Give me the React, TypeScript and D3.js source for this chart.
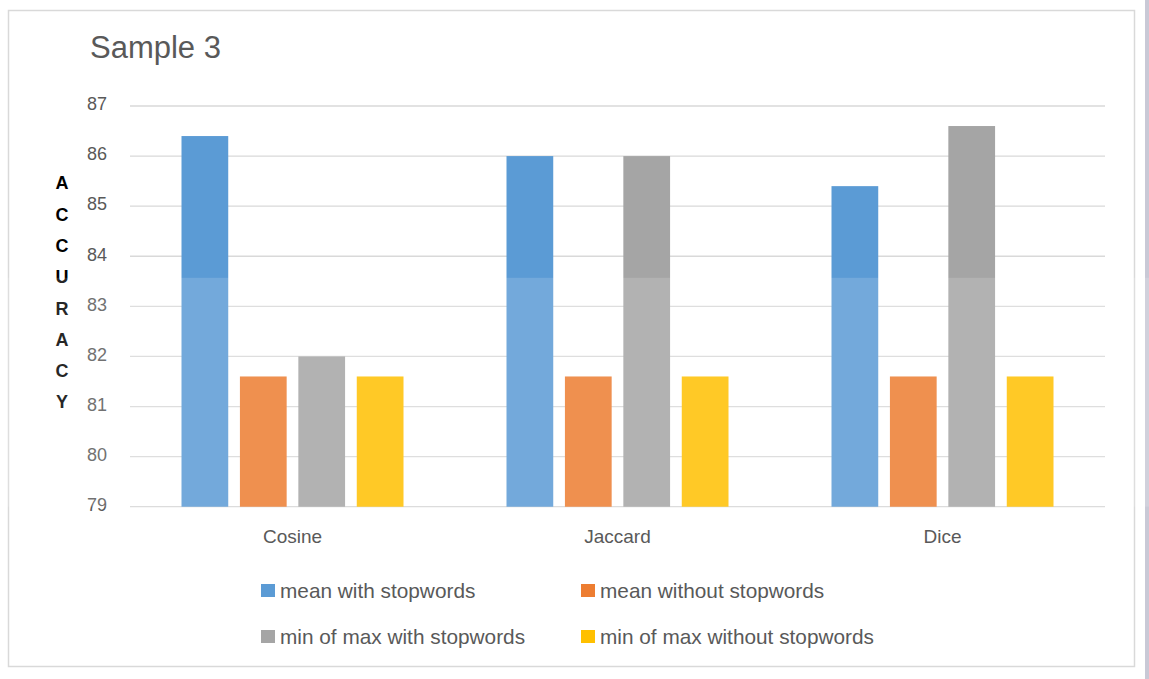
import React from "react";
import * as d3 from "d3";

const categories = ["Cosine", "Jaccard", "Dice"];
const seriesNames = [
  "mean with stopwords",
  "mean without stopwords",
  "min of max with stopwords",
  "min of max without stopwords",
];
const meanWith = [86.4, 86.0, 85.4];
const meanWithout = [81.6, 81.6, 81.6];
const minMaxWith = [82.0, 86.0, 86.6];
const minMaxWithout = [81.6, 81.6, 81.6];
const yTicks = [79, 80, 81, 82, 83, 84, 85, 86, 87];
const colors = ["#5B9BD5", "#ED7D31", "#A5A5A5", "#FFC000"];
const yLabel = "ACCURACY";

const seriesValues = [meanWith, meanWithout, minMaxWith, minMaxWithout];

const W = 1149;
const H = 679;
const plot = { left: 130, right: 1105, top: 106, bottom: 506.7 };

export default function App() {
  const y = d3.scaleLinear().domain([79, 87]).range([plot.bottom, plot.top]);
  const x0 = d3.scaleBand<string>().domain(categories).range([plot.left, plot.right]).paddingInner(0).paddingOuter(0);
  const groupW = 222;
  const x1 = d3.scaleBand<string>().domain(seriesNames).range([0, groupW]).paddingInner(0.2).paddingOuter(0);
  const font = "'Liberation Sans', Arial, sans-serif";
  const textColor = "#595959";

  const legendPos = [
    { x: 261, y: 584 },
    { x: 581, y: 584 },
    { x: 261, y: 630 },
    { x: 581, y: 630 },
  ];

  return (
    <svg width={W} height={H} style={{ position: "absolute", left: 0, top: 0, background: "#fff" }} fontFamily={font}>
      <rect x={0} y={0} width={W} height={H} fill="#fff" />
      <rect x={8.5} y={10.5} width={1126} height={656} fill="#fff" stroke="#d9d9d9" strokeWidth={1.5} />
      <rect x={1145} y={0} width={4} height={H} fill="#c9c9d6" />
      <text x={90} y={58} fontSize={31} fill={textColor}>Sample 3</text>

      {yTicks.map((t) => (
        <g key={t}>
          <line x1={plot.left} x2={plot.right} y1={y(t)} y2={y(t)} stroke="#d9d9d9" strokeWidth={1.3} />
          <text x={107} y={y(t) - 2} dy="0.35em" textAnchor="end" fontSize={18} fill={textColor}>{t}</text>
        </g>
      ))}

      {yLabel.split("").map((ch, i) => (
        <text key={i} x={62} y={183 + i * 31.3} dy="0.35em" textAnchor="middle" fontSize={18} fontWeight="bold" fill="#000">{ch}</text>
      ))}

      {categories.map((c, ci) => {
        const gx = (x0(c) as number) + x0.bandwidth() / 2 - groupW / 2;
        return (
          <g key={c}>
            {seriesNames.map((s, si) => {
              const v = seriesValues[si][ci];
              return (
                <rect key={s} x={gx + (x1(s) as number)} y={y(v)} width={x1.bandwidth()} height={y(79) - y(v)} fill={colors[si]} />
              );
            })}
            <text x={(x0(c) as number) + x0.bandwidth() / 2} y={536} dy="0.35em" textAnchor="middle" fontSize={19} fill={textColor}>{c}</text>
          </g>
        );
      })}

      <rect x={0} y={y(83.57)} width={W} height={plot.bottom - y(83.57)} fill="#fff" opacity={0.15} />

      {seriesNames.map((s, si) => (
        <g key={s}>
          <rect x={legendPos[si].x} y={legendPos[si].y} width={14} height={13} fill={colors[si]} />
          <text x={legendPos[si].x + 19} y={legendPos[si].y + 6.5} dy="0.35em" fontSize={20.8} fill={textColor}>{s}</text>
        </g>
      ))}
    </svg>
  );
}
